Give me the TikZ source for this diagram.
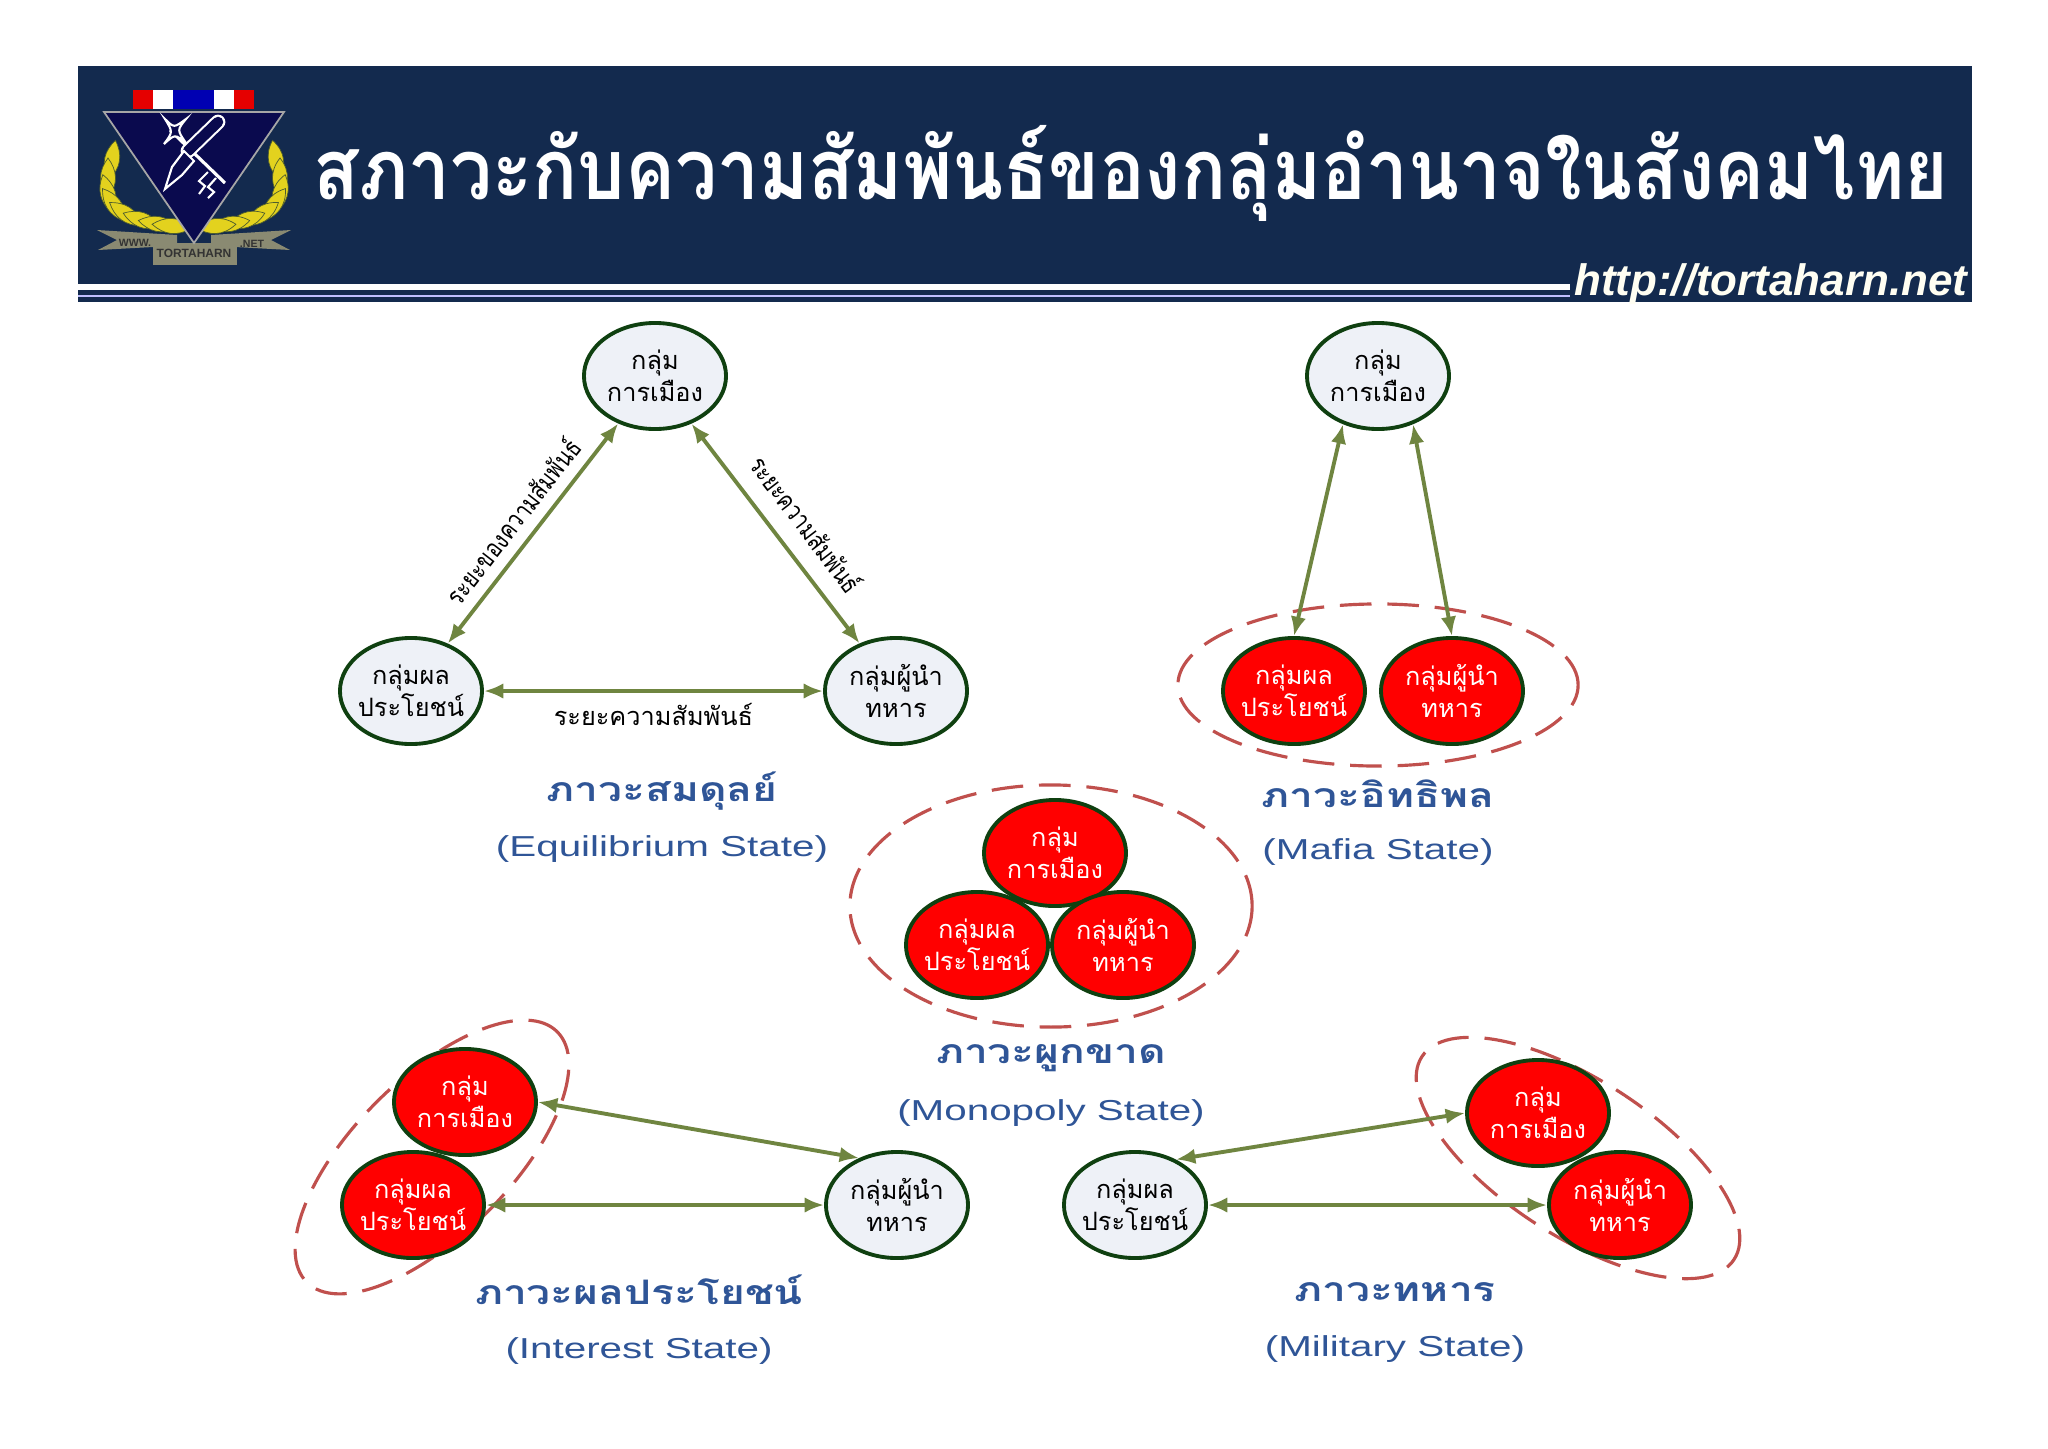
\documentclass[tikz,border=0pt]{standalone}
\usepackage{fontspec}
\usepackage{xcolor}
\usepackage{tikz}
\usetikzlibrary{arrows.meta,shapes.geometric}
\setmainfont{Liberation Sans}
\newfontfamily\thaifont[Script=Thai]{Loma}
\newfontfamily\thaititle[Script=Thai,FakeStretch=0.885]{Loma}
\newfontfamily\thaiwide[Script=Thai,FakeStretch=1.26]{Loma}
\newfontfamily\thainarrow[Script=Thai,FakeStretch=0.8]{Loma}
\newfontfamily\latinwide[FakeStretch=1.4]{Liberation Sans}
\definecolor{headblue}{HTML}{132A4E}
\definecolor{capblue}{HTML}{2F5597}
\definecolor{olive}{HTML}{6F8540}
\definecolor{ringred}{HTML}{C0504D}
\definecolor{grpgreen}{HTML}{0F4010}
\definecolor{grpfill}{HTML}{EEF1F7}
\definecolor{trinavy}{HTML}{0A0A4E}
\definecolor{leafgold}{HTML}{E3D21E}
\definecolor{bannergray}{HTML}{8A8A72}

\begin{document}
\begin{tikzpicture}[x=0.01cm, y=-0.01cm,
    grp/.style={ellipse, draw=grpgreen, line width=1.1pt, fill=grpfill, align=center,
                minimum width=1.42cm, minimum height=1.06cm, inner ysep=0pt, inner xsep=-1mm,
                font=\thaifont\fontsize{7.2pt}{9.2pt}\selectfont},
    grpred/.style={grp, fill=red, text=white},
    ring/.style={ellipse, draw=ringred, line width=0.9pt, dash pattern=on 9pt off 4.5pt, inner sep=0pt},
    arr/.style={{Latex[length=5.5pt,width=4.4pt]}-{Latex[length=5.5pt,width=4.4pt]}, olive, line width=1.1pt},
    lab/.style={font=\thaifont\fontsize{7.2pt}{8pt}\selectfont, text=black, inner sep=2pt},
    slab/.style={font=\thainarrow\fontsize{7.4pt}{8pt}\selectfont, text=black, inner sep=2pt},
    ttl/.style={font=\thaiwide\bfseries\fontsize{9.6pt}{11pt}\selectfont, text=capblue},
    sub/.style={font=\latinwide\fontsize{8.2pt}{10pt}\selectfont, text=capblue}]
  \useasboundingbox (0,0) rectangle (2048,1448);
  \fill[white] (0,0) rectangle (2048,1448);

  % header band
  \fill[headblue] (78,66) rectangle (1972,302);
  \fill[white] (78,284) rectangle (1570,290);
  \fill[blue!25!white] (78,295) rectangle (1570,297);
  \node[font=\thaititle\bfseries\fontsize{24pt}{28pt}\selectfont, text=white, anchor=base] (title) at (1131,199)
    {สภาวะกับความสัมพันธ์ของกลุ่มอำนาจในสังคมไทย};
  \node[font=\bfseries\itshape\fontsize{12.5pt}{14pt}\selectfont, text=white!95!yellow, anchor=base east, inner sep=0pt] (url) at (1968,295)
    {http://tortaharn.net};

  % logo
  \foreach \s in {-1,1} {
    \foreach \d/\y/\a in {82/160/80, 86/178/90, 86/194/105, 80/205/125, 68/214/145, 52/220/160, 36/224/170, 22/226/175}
      \filldraw[fill=leafgold, draw=olive!70!black, line width=0.2pt, shift={({194+\s*\d},\y)}, rotate={-\s*\a}]
        (-20,0) .. controls (-6,-11) and (8,-9) .. (20,0) .. controls (8,9) and (-6,11) .. (-20,0) -- cycle;
    \fill[bannergray] ({194+\s*97},230) -- ({194+\s*17},235) -- ({194+\s*17},243) -- ({194+\s*41},247)
      -- ({194+\s*96},250) -- ({194+\s*77},240) -- cycle;
  }
  \fill[bannergray] (153,243) rectangle (237,265);
  \filldraw[fill=trinavy, draw=gray!70, line width=0.5pt] (104,112) -- (284,112) -- (194,243) -- cycle;
  \fill[red!90!black] (133,90) rectangle (153,109);
  \fill[white] (153,90) rectangle (173,109);
  \fill[blue!70!black] (173,90) rectangle (214,109);
  \fill[white] (214,90) rectangle (234,109);
  \fill[red!90!black] (234,90) rectangle (254,109);
  \draw[white, line width=0.9pt] (170,130) -- (225,183);
  \draw[white, line width=0.6pt, fill=trinavy] (165,119) .. controls (174,128) and (174,128) .. (186,119)
    .. controls (177,130) and (177,130) .. (186,143) .. controls (175,134) and (175,134) .. (164,144)
    .. controls (173,132) and (173,132) .. (165,119) -- cycle;
  \draw[white, line width=0.6pt] (208,172) -- (199,181) -- (205,186) -- (199,194);
  \draw[white, line width=0.6pt] (216,178) -- (208,187) -- (214,192) -- (208,198);
  \draw[white, line width=4.2pt, line cap=round] (188,151) -- (218,122);
  \draw[trinavy, line width=3pt, line cap=round] (188,151) -- (218,122);
  \filldraw[fill=trinavy, draw=white, line width=0.6pt] (165,189) -- (172,167) -- (184,151) -- (194,161) -- (182,175) -- cycle;
  \node[font=\bfseries\fontsize{3.4pt}{4pt}\selectfont, text=black!80, inner sep=0pt] (ltort) at (194,253) {TORTAHARN};
  \node[font=\bfseries\fontsize{3pt}{4pt}\selectfont, text=black!80, inner sep=0pt] (lwww) at (135,243) {WWW.};
  \node[font=\bfseries\fontsize{3pt}{4pt}\selectfont, text=black!80, inner sep=0pt] (lnet) at (252,244) {.NET};

  % dashed rings
  \node[ring, minimum width=4cm, minimum height=1.62cm] (ringa) at (1378,685) {};
  \node[ring, minimum width=4.02cm, minimum height=2.42cm] (ringb) at (1051,906) {};
  \node[ring, minimum width=3.54cm, minimum height=1.56cm, rotate=45] (ringc) at (432,1157) {};
  \node[ring, minimum width=3.72cm, minimum height=1.56cm, rotate=-33] (ringd) at (1578,1158) {};

  % equilibrium
  \node[grp] (epol) at (655,376) {กลุ่ม\\การเมือง};
  \node[grp] (eint) at (411,691) {กลุ่มผล\\ประโยชน์};
  \node[grp] (emil) at (896,691) {กลุ่มผู้นำ\\ทหาร};
  \draw[arr] (eint) -- node[slab, sloped, above=1pt, pos=.49] (elab1) {ระยะของความสัมพันธ์} (epol);
  \draw[arr] (epol) -- node[slab, sloped, above=3pt, pos=.54] (elab2) {ระยะความสัมพันธ์} (emil);
  \draw[arr] (eint) -- node[lab, below, midway, yshift=-1pt] (elab3) {ระยะความสัมพันธ์} (emil);
  \node[ttl] (ettl) at (662,791) {ภาวะสมดุลย์};
  \node[sub] (esub) at (662,849) {(Equilibrium State)};

  % mafia
  \node[grp] (apol) at (1378,376) {กลุ่ม\\การเมือง};
  \node[grpred] (aint) at (1294,691) {กลุ่มผล\\ประโยชน์};
  \node[grpred] (amil) at (1452,691) {กลุ่มผู้นำ\\ทหาร};
  \draw[arr] (aint.north) -- (apol.234);
  \draw[arr] (apol.306) -- (amil.north);
  \node[ttl] (attl) at (1378,794) {ภาวะอิทธิพล};
  \node[sub] (asub) at (1378,852) {(Mafia State)};

  % monopoly
  \node[grpred] (bpol) at (1055,853) {กลุ่ม\\การเมือง};
  \node[grpred] (bint) at (977,945) {กลุ่มผล\\ประโยชน์};
  \node[grpred] (bmil) at (1123,945) {กลุ่มผู้นำ\\ทหาร};
  \node[ttl] (bttl) at (1051,1058) {ภาวะผูกขาด};
  \node[sub] (bsub) at (1051,1113) {(Monopoly State)};

  % interest
  \node[grpred] (cpol) at (465,1102) {กลุ่ม\\การเมือง};
  \node[grpred] (cint) at (413,1205) {กลุ่มผล\\ประโยชน์};
  \node[grp] (cmil) at (897,1205) {กลุ่มผู้นำ\\ทหาร};
  \draw[arr] (cpol.east) -- (cmil.129);
  \draw[arr] (cint) -- (cmil);
  \node[ttl] (cttl) at (639,1290) {ภาวะผลประโยชน์};
  \node[sub] (csub) at (639,1351) {(Interest State)};

  % military
  \node[grpred] (dpol) at (1538,1113) {กลุ่ม\\การเมือง};
  \node[grpred] (dmil) at (1620,1205) {กลุ่มผู้นำ\\ทหาร};
  \node[grp] (dint) at (1135,1205) {กลุ่มผล\\ประโยชน์};
  \draw[arr] (dint.48) -- (dpol.west);
  \draw[arr] (dint) -- (dmil);
  \node[ttl] (dttl) at (1395,1292) {ภาวะทหาร};
  \node[sub] (dsub) at (1395,1349) {(Military State)};
\end{tikzpicture}
\end{document}
